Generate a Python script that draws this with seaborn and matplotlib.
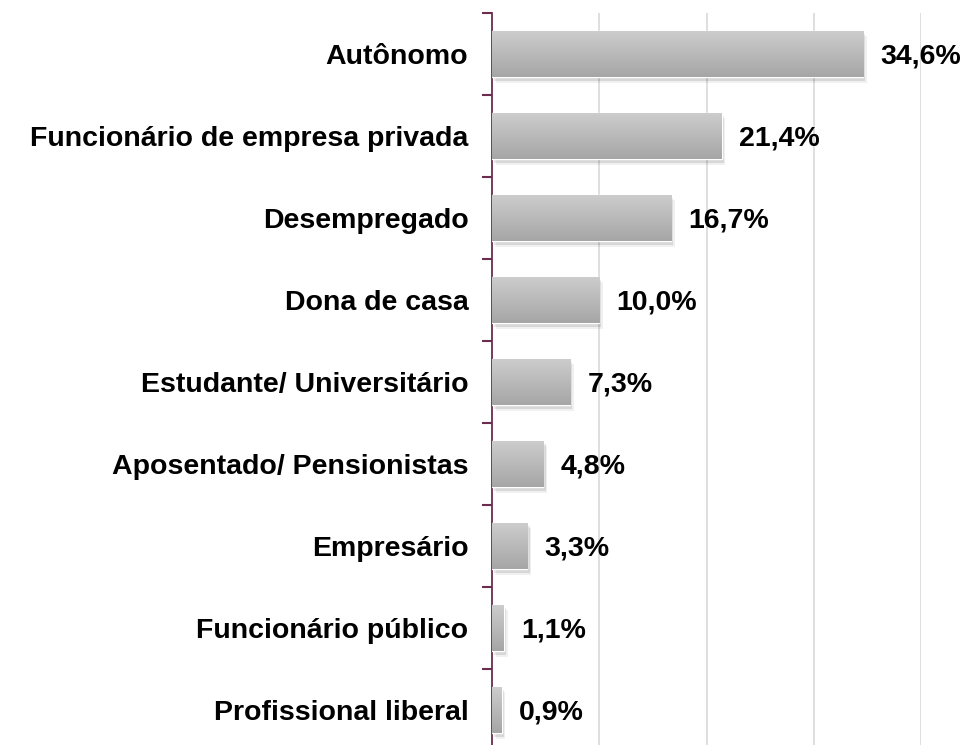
import numpy as np
import pandas as pd
import matplotlib
matplotlib.use("Agg")
import matplotlib.pyplot as plt
import seaborn as sns
from matplotlib.colors import LinearSegmentedColormap
from matplotlib.patches import Rectangle
from matplotlib.ticker import FixedLocator

categories = ["Autônomo", "Funcionário de empresa privada", "Desempregado",
              "Dona de casa", "Estudante/ Universitário", "Aposentado/ Pensionistas",
              "Empresário", "Funcionário público", "Profissional liberal"]
values = [34.6, 21.4, 16.7, 10.0, 7.3, 4.8, 3.3, 1.1, 0.9]

df = pd.DataFrame({"categoria": categories, "pct": values})

sns.set_style("white")
plt.rcParams['font.family'] = ['Liberation Sans', 'DejaVu Sans']
plt.rcParams['text.color'] = 'black'
plt.rcParams['ytick.labelcolor'] = 'black'

fig = plt.figure(figsize=(9.67, 7.45), dpi=100)
ax = fig.add_axes([492 / 967, (745 - 751) / 745, (921 - 492) / 967, 738 / 745])

sns.barplot(data=df, x="pct", y="categoria", orient="h", color="#bdbdbd",
            width=0.57, ax=ax, zorder=3)

# gradient fill + soft shadow on every bar
grad = LinearSegmentedColormap.from_list("g", ["#cdcdcd", "#a6a6a6"])
for p in list(ax.patches):
    x0, y0 = p.get_x(), p.get_y()
    w, h = p.get_width(), p.get_height()
    for k, a in [(0.35, 0.06), (0.2, 0.10)]:
        sh = Rectangle((x0 + k, y0 + k / 5), w, h, facecolor="#000000", alpha=a,
                       edgecolor="none", zorder=2)
        ax.add_patch(sh)
    im = ax.imshow(np.linspace(0, 1, 50).reshape(-1, 1), cmap=grad, aspect="auto",
                   extent=(x0, x0 + w, y0 + h, y0), zorder=3.5)
    im.set_clip_path(p)
    ax.text(x0 + w + 1.6, y0 + h / 2 + 0.03, f"{w:.1f}".replace(".", ",") + "%",
            va="center", ha="left", fontsize=20.5, fontweight="bold", color="black", zorder=5)

ax.set_xlim(0, 40)
ax.set_ylim(len(categories) - 0.5, -0.5)
ax.set_xticks([10, 20, 30, 40])
ax.xaxis.grid(True, color="#d9d9d9", linewidth=1.2, zorder=0)
ax.tick_params(axis="x", bottom=False, labelbottom=False)
ax.set_xlabel("")
ax.set_ylabel("")

ax.tick_params(axis="y", which="major", length=0, pad=17, labelsize=20.5, labelcolor="black")
for lbl in ax.get_yticklabels():
    lbl.set_fontweight("bold")
ax.yaxis.set_minor_locator(FixedLocator(np.arange(-0.5, len(categories), 1)))
ax.tick_params(axis="y", which="minor", left=True, length=7, width=1.5, color="#6b2d4d")

for side in ["top", "right", "bottom"]:
    ax.spines[side].set_visible(False)
ax.spines["left"].set_color("#6b2d4d")
ax.spines["left"].set_linewidth(1.3)

fig.savefig("out.png", dpi=100)
